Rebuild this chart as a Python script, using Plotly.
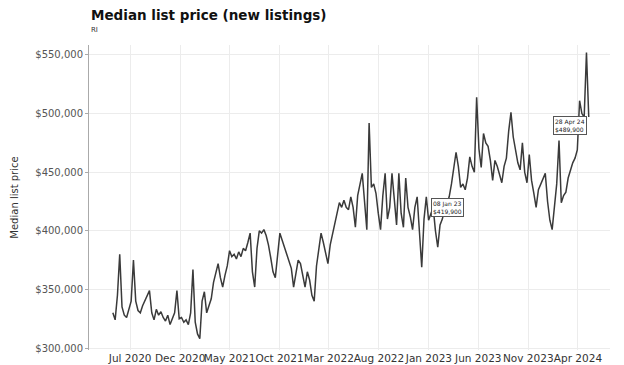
import pandas as pd
import plotly.graph_objects as go

start_date = "2020-05-09"
prices_k = [
    330, 324, 345, 380, 335, 328, 326, 334, 340, 375,
    340, 332, 330, 336, 340, 345, 349, 330, 324, 333,
    328, 331, 326, 323, 328, 320, 326, 330, 349, 325,
    326, 322, 324, 320, 330, 367, 322, 312, 308, 340,
    348, 330, 336, 342, 356, 365, 372, 360, 352, 362,
    370, 383, 378, 380, 376, 382, 378, 385, 383, 390,
    398, 365, 352, 385, 400, 398, 401, 396, 388, 377,
    365, 360, 380, 398, 392, 386, 382, 375, 368, 352,
    362, 375, 372, 362, 352, 365, 358, 345, 340, 370,
    385, 398, 390, 381, 372, 388, 398, 405, 415, 424,
    420, 426, 420, 418, 429, 420, 403, 430, 441, 449,
    425, 401, 492, 437, 440, 432, 415, 401, 430, 449,
    410, 420, 449, 425, 405, 449, 415, 403, 445, 420,
    412, 401, 420, 429, 395, 369, 410, 429, 409, 415,
    420, 400, 386, 405, 410, 418, 424, 429, 440, 452,
    467, 455, 437, 440, 435, 445, 463, 455, 450, 514,
    470, 454, 483, 475, 472, 460, 443, 460, 455, 448,
    441, 455, 462, 485, 501, 480, 469, 458, 452, 475,
    450, 441, 465, 443, 432, 420, 435, 440, 445, 449,
    425, 409, 401, 420, 440, 477, 424, 430, 433, 445,
    452, 458, 462, 469, 511, 500, 497, 552, 497,
]
prices = [v * 1000 for v in prices_k]
dates = pd.date_range(start_date, periods=len(prices), freq="W-SAT")

tick_dates = ["2020-07-01", "2020-12-01", "2021-05-01", "2021-10-01", "2022-03-01",
              "2022-08-01", "2023-01-01", "2023-06-01", "2023-11-01", "2024-04-01"]
tick_labels = ["Jul 2020", "Dec 2020", "May 2021", "Oct 2021", "Mar 2022",
               "Aug 2022", "Jan 2023", "Jun 2023", "Nov 2023", "Apr 2024"]
y_ticks = [300000, 350000, 400000, 450000, 500000, 550000]
y_labels = ["$300,000", "$350,000", "$400,000", "$450,000", "$500,000", "$550,000"]

note_dates = ["2023-01-08", "2024-04-28"]
note_values = [419900, 489900]
note_texts = ["08 Jan 23<br>$419,900", "28 Apr 24<br>$489,900"]
note_anchor = ["left", "right"]

fig = go.Figure()
fig.add_trace(go.Scatter(x=dates, y=prices, mode="lines",
                         line=dict(color="#3a3a3a", width=1.5),
                         hoverinfo="skip", showlegend=False))

for d, v, t, a in zip(note_dates, note_values, note_texts, note_anchor):
    fig.add_annotation(x=d, y=v, text=t, showarrow=False, xanchor=a, yanchor="middle",
                       align="left", font=dict(size=6, color="#222", family="DejaVu Sans"),
                       bgcolor="white", bordercolor="#555", borderwidth=1, borderpad=1)

fig.add_annotation(text="<b>Median list price (new listings)</b>", xref="paper", yref="paper",
                   x=0, y=1.098, xanchor="left", yanchor="middle", showarrow=False,
                   font=dict(size=13.5, color="#111", family="DejaVu Sans"))
fig.add_annotation(text="RI", xref="paper", yref="paper",
                   x=0, y=1.049, xanchor="left", yanchor="middle", showarrow=False,
                   font=dict(size=7, color="#333", family="DejaVu Sans"))

fig.update_layout(
    width=624, height=365,
    margin=dict(l=81, r=22, t=37, b=23, autoexpand=False),
    paper_bgcolor="white", plot_bgcolor="white",
    font=dict(family="DejaVu Sans", color="#333"),
    xaxis=dict(range=["2020-02-26", "2024-07-08"], tickvals=tick_dates, ticktext=tick_labels,
               tickangle=0, automargin=False,
               tickfont=dict(size=10.5, color="#333"), showgrid=True, gridcolor="#ececec",
               gridwidth=1, zeroline=False, showline=False, ticks=""),
    yaxis=dict(range=[298300, 558500], tickvals=y_ticks, ticktext=y_labels, automargin=False,
               tickfont=dict(size=10, color="#555"), showgrid=True, gridcolor="#ececec",
               gridwidth=1, zeroline=False, showline=True, linecolor="#aaa", linewidth=1,
               ticks="outside", ticklen=3, tickcolor="#aaa",
               title=dict(text="Median list price", font=dict(size=10, color="#333"), standoff=14)),
)

fig.write_html("out.html")
